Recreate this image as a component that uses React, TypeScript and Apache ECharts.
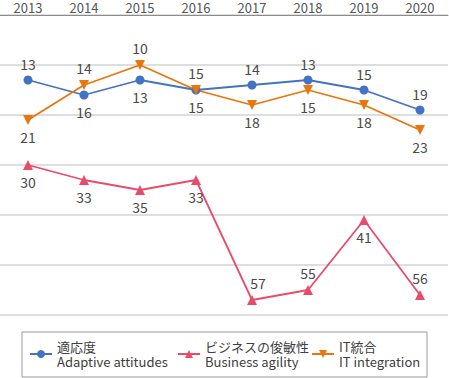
import React, { useEffect, useRef } from "react";
import * as echarts from "echarts";

const years = ["2013", "2014", "2015", "2016", "2017", "2018", "2019", "2020"];
const adaptive = [13, 16, 13, 15, 14, 13, 15, 19];
const agility = [30, 33, 35, 33, 57, 55, 41, 56];
const itIntegration = [21, 14, 10, 15, 18, 15, 18, 23];

const adaptivePos = ["top", "bottom", "bottom", "bottom", "top", "top", "top", "top"];
const agilityPos = ["bottom", "bottom", "bottom", "bottom", "top", "top", "bottom", "top"];
const itPos = ["bottom", "top", "top", "top", "bottom", "bottom", "bottom", "bottom"];

const names = [
  "適応度\nAdaptive attitudes",
  "ビジネスの俊敏性\nBusiness agility",
  "IT統合\nIT integration",
];

const FONT = "'Noto Sans CJK JP', 'Noto Sans', sans-serif";

function withLabels(vals: number[], pos: string[], offsets?: Record<number, number[]>) {
  return vals.map((v, i) => ({
    value: v,
    label: { position: pos[i], offset: offsets && offsets[i] ? offsets[i] : [0, 0] },
  }));
}

export default function App() {
  const ref = useRef<HTMLDivElement>(null);
  useEffect(() => {
    if (!ref.current) return;
    const chart = echarts.init(ref.current, undefined, { renderer: "svg" });
    const labelStyle = { show: true, fontSize: 14, color: "#4a4a4a", fontFamily: FONT };
    const legendBase = {
      top: 339,
      padding: 0,
      itemGap: 0,
      itemWidth: 22,
      itemHeight: 10,
      textStyle: { fontSize: 13, lineHeight: 15, color: "#404040", fontFamily: FONT },
    };
    chart.setOption({
      animation: false,
      textStyle: { fontFamily: FONT },
      grid: { left: 0, right: 1, top: 15, height: 300 },
      graphic: [
        {
          type: "rect",
          shape: { x: 22, y: 332, width: 405, height: 45 },
          style: { fill: "#fff", stroke: "#999", lineWidth: 1 },
          z: -1,
        },
      ],
      xAxis: {
        type: "category",
        position: "top",
        data: years,
        boundaryGap: true,
        axisLine: { lineStyle: { color: "#8c8c8c", width: 1 } },
        axisTick: { inside: true, length: 5, lineStyle: { color: "#8c8c8c" } },
        axisLabel: {
          color: "#555",
          fontSize: 13,
          lineHeight: 13,
          margin: 1,
          fontFamily: FONT,
        },
      },
      yAxis: {
        type: "value",
        inverse: true,
        min: 0,
        max: 60,
        interval: 10,
        axisLabel: { show: false },
        axisLine: { show: false },
        axisTick: { show: false },
        splitLine: { lineStyle: { color: "#d3d3d3", width: 1.5 } },
      },
      legend: [
        { ...legendBase, left: 29, data: [names[0]] },
        { ...legendBase, left: 177, data: [names[1]] },
        { ...legendBase, left: 311, data: [names[2]] },
      ],
      series: [
        {
          name: names[0],
          type: "line",
          data: withLabels(adaptive, adaptivePos),
          symbol: "circle",
          symbolSize: 9,
          color: "#4472c4",
          lineStyle: { width: 1.8 },
          label: labelStyle,
        },
        {
          name: names[1],
          type: "line",
          data: withLabels(agility, agilityPos, { 4: [6, 0] }),
          symbol: "triangle",
          symbolSize: 10,
          color: "#e84c6c",
          lineStyle: { width: 1.8 },
          label: labelStyle,
        },
        {
          name: names[2],
          type: "line",
          data: withLabels(itIntegration, itPos),
          symbol: "triangle",
          symbolRotate: 180,
          symbolSize: 10,
          color: "#e8760c",
          lineStyle: { width: 1.8 },
          label: labelStyle,
        },
      ],
    });
    return () => chart.dispose();
  }, []);
  return (
    <div
      ref={ref}
      style={{ position: "absolute", left: 0, top: 0, width: 449, height: 378 }}
    />
  );
}
